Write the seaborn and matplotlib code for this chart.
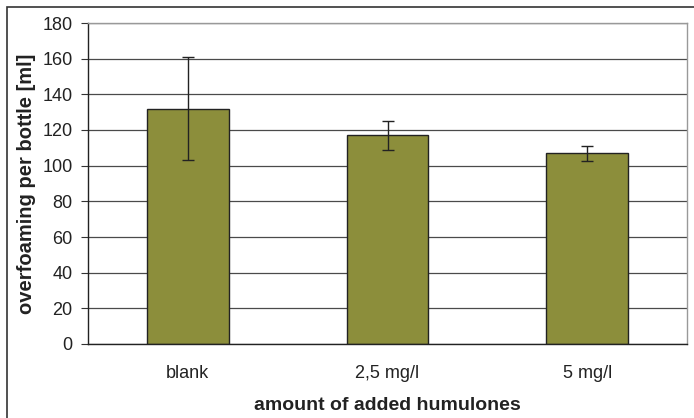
import numpy as np
import pandas as pd
import seaborn as sns
import matplotlib.pyplot as plt
from matplotlib.patches import Rectangle

categories = ["blank", "2,5 mg/l", "5 mg/l"]
means = [132, 117, 107]
errors = [29, 8.3, 4.2]

df = pd.DataFrame({"amount": categories, "overfoaming": means})

sns.set_style("white")
plt.rcParams['font.family'] = ['Liberation Sans', 'DejaVu Sans']

fig = plt.figure(figsize=(6.94, 4.18), dpi=100)
ax = fig.add_axes([88/694, 1-344/418, (687-88)/694, (344-23)/418])

sns.barplot(data=df, x="amount", y="overfoaming", color="#8C8E3B", width=0.41,
            edgecolor="#222222", linewidth=1.0, saturation=1, errorbar=None, ax=ax)
ax.errorbar(np.arange(len(categories)), means, yerr=errors, fmt="none",
            ecolor="#222222", elinewidth=1.0, capsize=4.5, capthick=1.0)

ax.set_ylim(0, 180)
ax.set_xlim(-0.5, 2.5)
ax.set_yticks(np.arange(0, 181, 20))
ax.yaxis.grid(True, color="#4a4a4a", linewidth=0.9)
ax.set_axisbelow(True)

ax.set_xticks([-0.5, 0.5, 1.5, 2.5])
ax.set_xticklabels([])
ax.set_xticks(range(3), minor=True)
ax.set_xticklabels(categories, minor=True)
ax.tick_params(axis="x", which="major", direction="out", length=5, width=0.8, color="#333333")
ax.tick_params(axis="x", which="minor", length=0, pad=15, labelsize=13, labelcolor="#222222")
ax.tick_params(axis="y", direction="out", length=5, width=0.8, color="#333333", labelsize=13,
               labelcolor="#222222", left=True, pad=6)

for s in ["left", "bottom"]:
    ax.spines[s].set_color("#222222")
    ax.spines[s].set_linewidth(1.0)
for s in ["top", "right"]:
    ax.spines[s].set_color("#999999")
    ax.spines[s].set_linewidth(1.0)

ax.set_xlabel("amount of added humulones", fontsize=14, fontweight="bold", color="#222222", labelpad=11)
ax.set_ylabel("overfoaming per bottle [ml]", fontsize=14.5, fontweight="bold", color="#222222", labelpad=5)

fig.patches.append(Rectangle((7/694, -0.1), 1.2, 1-7/418+0.1, transform=fig.transFigure,
                             fill=False, edgecolor="#333333", linewidth=1.2))

fig.savefig("out.png", dpi=100)
